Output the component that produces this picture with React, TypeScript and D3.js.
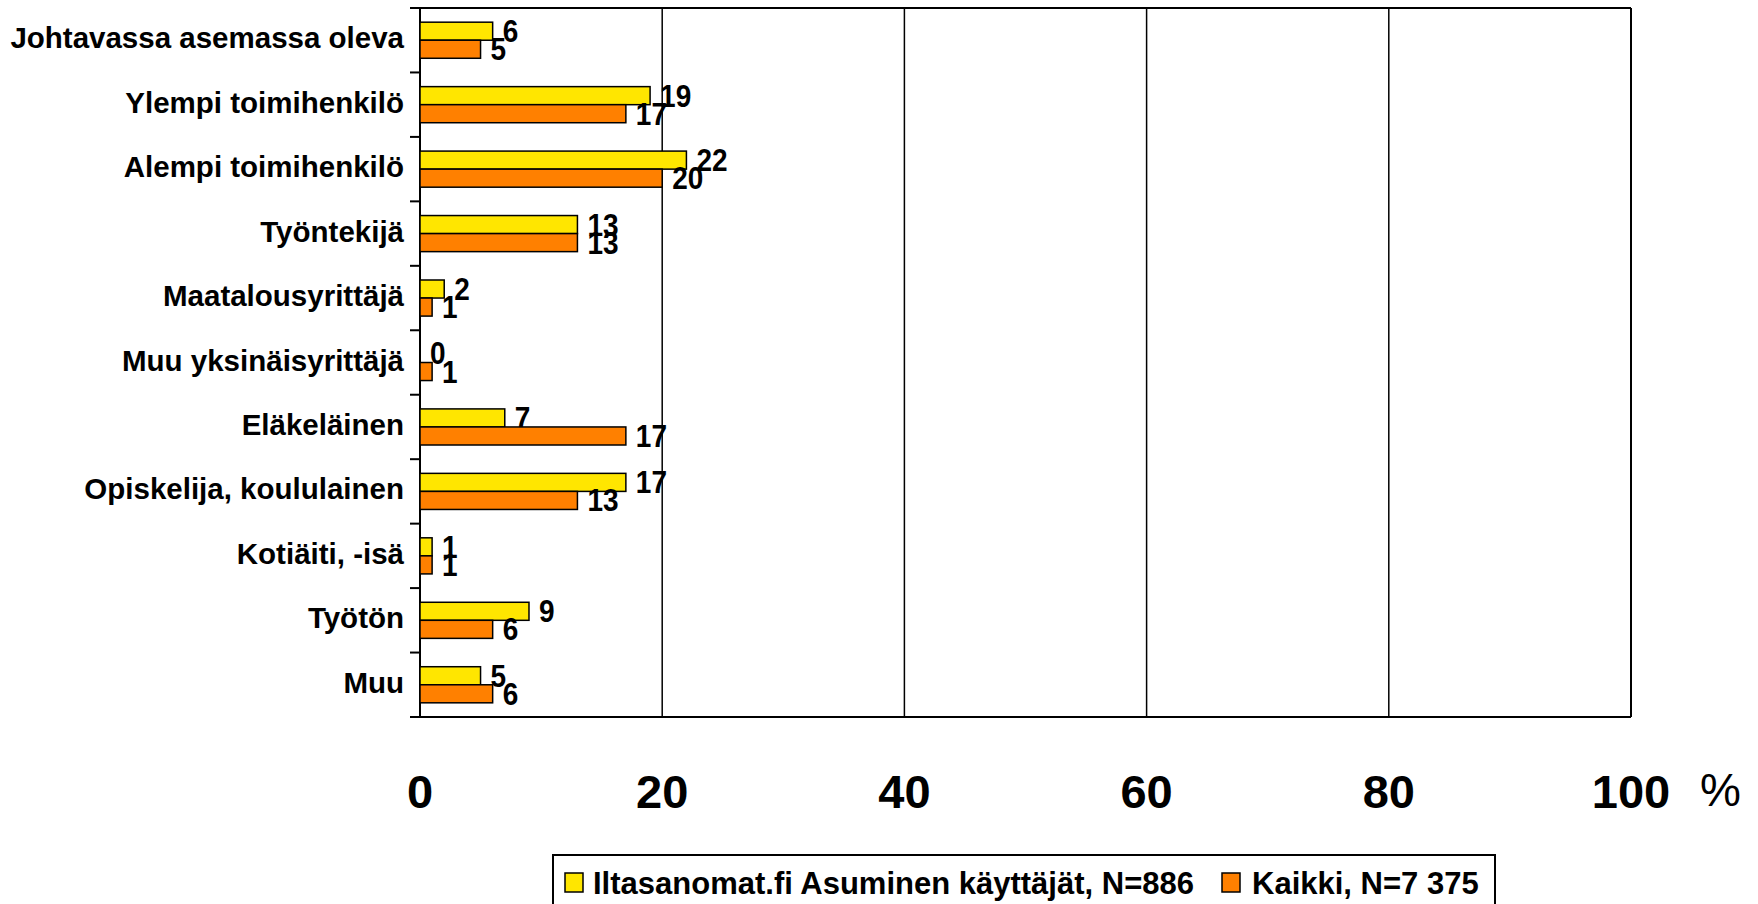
import React from "react";
import * as d3 from "d3";

const categories = [
  "Johtavassa asemassa oleva",
  "Ylempi toimihenkilö",
  "Alempi toimihenkilö",
  "Työntekijä",
  "Maatalousyrittäjä",
  "Muu yksinäisyrittäjä",
  "Eläkeläinen",
  "Opiskelija, koululainen",
  "Kotiäiti, -isä",
  "Työtön",
  "Muu",
];
const iltasanomat = [6, 19, 22, 13, 2, 0, 7, 17, 1, 9, 5];
const kaikki = [5, 17, 20, 13, 1, 1, 17, 13, 1, 6, 6];
const seriesNames = ["Iltasanomat.fi Asuminen käyttäjät, N=886", "Kaikki, N=7 375"];
const seriesColors = ["#FFE600", "#FF8000"];
const xTicks = [0, 20, 40, 60, 80, 100];

const W = 1758;
const H = 904;
const M = { left: 420, right: 1631, top: 8, bottom: 717 };
const FONT = "'Liberation Sans', Arial, Helvetica, sans-serif";

export default function App() {
  const x = d3.scaleLinear().domain([0, 100]).range([M.left, M.right]);
  const y = d3
    .scaleBand<string>()
    .domain(categories)
    .range([M.top, M.bottom])
    .paddingInner(0.44)
    .paddingOuter(0.22);
  const step = y.step();
  const inner = d3.scaleBand<number>().domain([0, 1]).range([0, y.bandwidth()]);
  const series = [iltasanomat, kaikki];

  const boundaries = d3.range(categories.length + 1).map((i) => M.top + i * step);

  return (
    <svg
      width={W}
      height={H}
      style={{ position: "absolute", left: 0, top: 0, display: "block", background: "#fff" }}
      fontFamily={FONT}
    >
      <rect x={0} y={0} width={W} height={H} fill="#fff" />
      {/* gridlines */}
      {xTicks.slice(1, -1).map((t) => (
        <line key={t} x1={x(t)} x2={x(t)} y1={M.top} y2={M.bottom} stroke="#000" strokeWidth={1.5} />
      ))}
      {/* plot border */}
      <line x1={M.left} x2={M.right} y1={M.top} y2={M.top} stroke="#000" strokeWidth={2} />
      <line x1={M.right} x2={M.right} y1={M.top} y2={M.bottom} stroke="#000" strokeWidth={2} />
      <line x1={M.left - 10} x2={M.right} y1={M.bottom} y2={M.bottom} stroke="#000" strokeWidth={2} />
      <line x1={M.left} x2={M.left} y1={M.top} y2={M.bottom} stroke="#000" strokeWidth={2} />
      {boundaries.map((b, i) => (
        <line key={i} x1={M.left - 10} x2={M.left} y1={b} y2={b} stroke="#000" strokeWidth={2} />
      ))}
      {/* bars */}
      {categories.map((c, i) => (
        <g key={c}>
          {series.map((s, si) => {
            const by = (y(c) as number) + (inner(si) as number);
            const bh = inner.bandwidth();
            const v = s[i];
            return (
              <g key={si}>
                {v > 0 && (
                  <rect
                    x={x(0)}
                    y={by}
                    width={x(v) - x(0)}
                    height={bh}
                    fill={seriesColors[si]}
                    stroke="#000"
                    strokeWidth={1.5}
                  />
                )}
                <text
                  transform={`translate(${x(v) + 10},${by + bh / 2 + 11}) scale(1,1.12)`}
                  fontSize={28}
                  fontWeight="bold"
                  fill="#000"
                >
                  {v}
                </text>
              </g>
            );
          })}
          <text
            x={404}
            y={(y(c) as number) + y.bandwidth() / 2 + 8}
            textAnchor="end"
            fontSize={29.5}
            fontWeight="bold"
            fill="#000"
          >
            {c}
          </text>
        </g>
      ))}
      {/* x tick labels */}
      {xTicks.map((t) => (
        <text key={t} x={x(t)} y={808} textAnchor="middle" fontSize={47} fontWeight="bold" fill="#000">
          {t}
        </text>
      ))}
      <text x={1700} y={806} fontSize={46} fill="#000">
        %
      </text>
      {/* legend */}
      <rect x={553} y={855} width={942} height={60} fill="#fff" stroke="#000" strokeWidth={2} />
      <rect x={565} y={873} width={18} height={19} fill={seriesColors[0]} stroke="#000" strokeWidth={1.5} />
      <text x={593} y={894} fontSize={31} fontWeight="bold" fill="#000">
        {seriesNames[0]}
      </text>
      <rect x={1222} y={873} width={18} height={19} fill={seriesColors[1]} stroke="#000" strokeWidth={1.5} />
      <text x={1252} y={894} fontSize={31} fontWeight="bold" fill="#000">
        {seriesNames[1]}
      </text>
    </svg>
  );
}
